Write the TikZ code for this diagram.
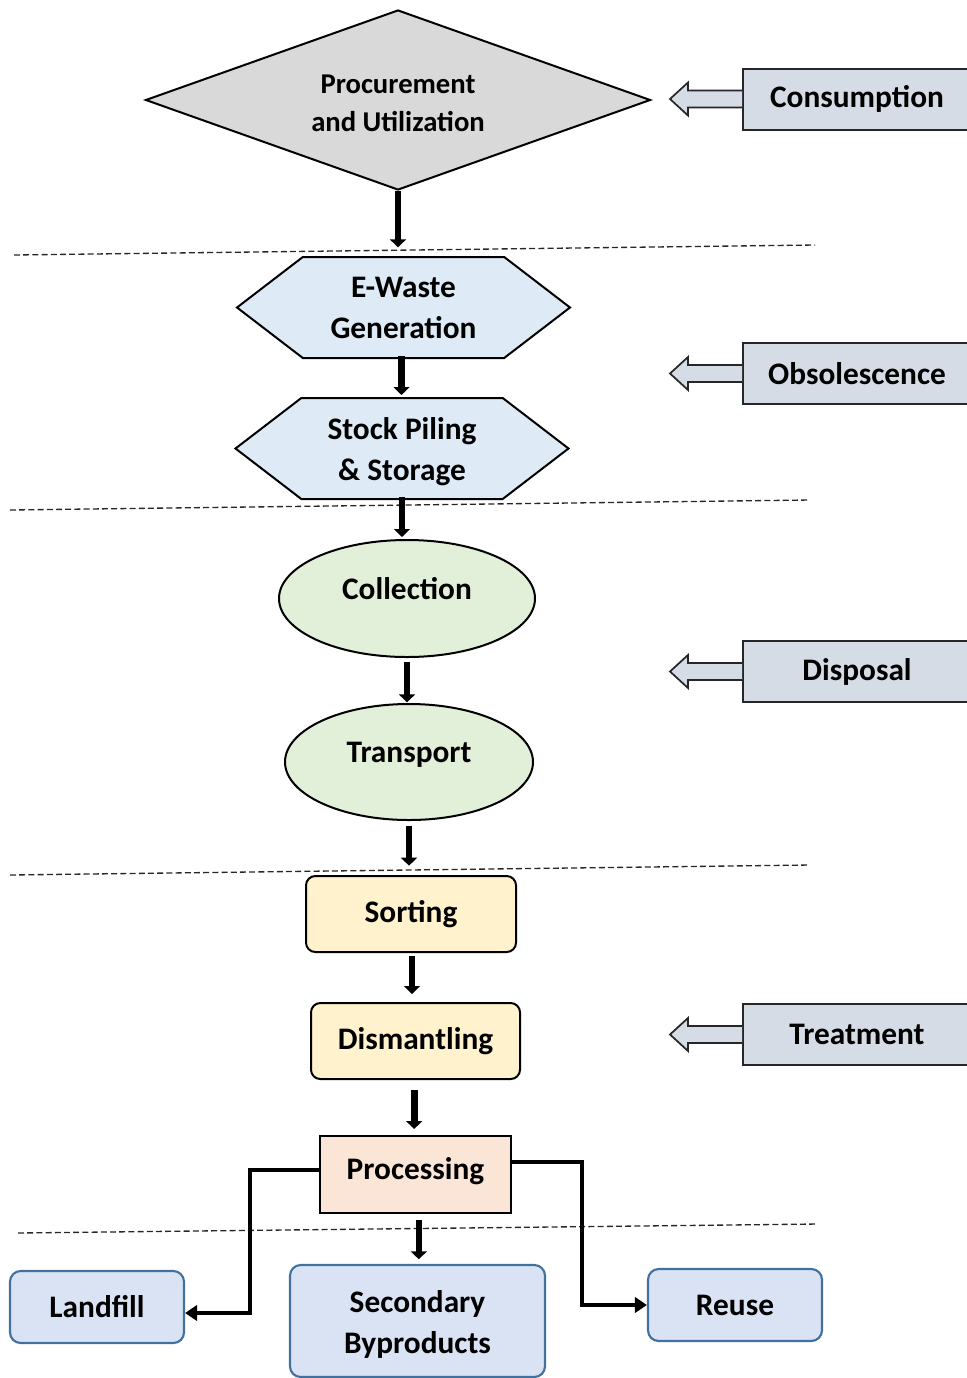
\documentclass[tikz,border=0pt]{standalone}
\usepackage{fontspec}
\setmainfont{Carlito}
\usetikzlibrary{shapes.geometric,shapes.symbols,arrows.meta,calc}
\definecolor{dgray}{HTML}{D9D9D9}
\definecolor{hexblue}{HTML}{DEEBF7}
\definecolor{ellgreen}{HTML}{E2F0D9}
\definecolor{boxyellow}{HTML}{FFF2CC}
\definecolor{procpink}{HTML}{FBE5D6}
\definecolor{endblue}{HTML}{DAE3F3}
\definecolor{endborder}{HTML}{41719C}
\definecolor{callfill}{HTML}{D6DCE5}
\definecolor{callline}{HTML}{262626}
\newcommand{\mlshift}[2]{\raisebox{#1}[\height][\depth]{\begin{tabular}{@{}c@{}}#2\end{tabular}}}
\begin{document}
\begin{tikzpicture}[x=0.75pt,y=-0.75pt,
  lbl/.style={font=\bfseries\fontsize{23.5}{30.75}\selectfont, align=center, text=black, inner sep=0pt},
  outl/.style={draw=black, line width=1.5pt},
  hexa/.style={lbl, outl, signal, signal to=west and east, signal pointer angle=75, fill=hexblue,
     minimum width=249.75pt, minimum height=75.75pt},
  ell/.style={lbl, outl, ellipse, fill=ellgreen, text height=16pt, text depth=15pt},
  ybox/.style={lbl, outl, rectangle, rounded corners=7pt, fill=boxyellow, minimum height=57pt},
  endbox/.style={lbl, draw=endborder, line width=1.6pt, rectangle, rounded corners=8pt, fill=endblue},
  callbox/.style={lbl, draw=callline, line width=1.5pt, rectangle, fill=callfill,
     minimum width=171pt, minimum height=45.75pt},
  callarrow/.style={draw=callline, line width=1.3pt, fill=callfill, line join=miter},
  flow/.style={line width=5pt, -{Triangle[length=6pt,width=12pt]}},
  elbow/.style={line width=3pt, -{Triangle[length=9pt,width=11.5pt]}},
  sep/.style={line width=1pt, dash pattern=on 4.5pt off 2.4pt, draw=black!85}
]
\useasboundingbox (0,0) rectangle (967,1378);

% separators
\draw[sep] (14,255) -- (815,245);
\draw[sep] (10,510) -- (810,500);
\draw[sep] (10,875) -- (810,865);
\draw[sep] (18,1233) -- (818,1224);

% main column
\node[lbl, outl, diamond, aspect=2.8, fill=dgray, minimum width=378.75pt, minimum height=135pt,
      font=\bfseries\fontsize{21.5}{28.5}\selectfont] (pu) at (398,100) {\mlshift{-3.75pt}{Procurement\\and Utilization}};
\node[hexa] (ew) at (403.5,307.5) {E-Waste\\Generation};
\node[hexa] (sp) at (402,448.5) {\mlshift{-2.5pt}{Stock Piling\\\& Storage}};
\node[ell, minimum width=192pt, minimum height=87.75pt] (col) at (407,598.5) {Collection};
\node[ell, minimum width=186pt, minimum height=87pt] (tra) at (409,762) {Transport};
\node[ybox, minimum width=157.5pt] (sor) at (411,914) {Sorting};
\node[ybox, minimum width=156.75pt] (dis) at (415.5,1041) {Dismantling};
\node[lbl, outl, rectangle, fill=procpink, minimum width=143.25pt, minimum height=57.75pt,
      text depth=8pt, text height=16pt] (pro) at (415.5,1174.5) {Processing};
\node[endbox, minimum width=130.5pt, minimum height=54pt] (lan) at (97,1307) {Landfill};
\node[endbox, minimum width=191.25pt, minimum height=84pt] (sec) at (417.5,1321) {\mlshift{-2.5pt}{Secondary\\Byproducts}};
\node[endbox, minimum width=130.5pt, minimum height=54pt] (reu) at (735,1305) {Reuse};

% flow arrows
\draw[flow, shorten >=6.5pt] (pu.south) -- (pu.south |- ew.north);
\draw[flow, shorten <=-2pt, shorten >=1.5pt] ([xshift=-1.5pt]ew.south) -- ([xshift=-1.5pt]ew.south |- sp.north);
\draw[flow, shorten <=-2pt, shorten >=1.5pt] (sp.south) -- (sp.south |- col.north);
\draw[flow, shorten <=3pt, shorten >=0.5pt] (col.south) -- (col.south |- tra.north);
\draw[flow, shorten <=3.5pt, shorten >=7pt] (tra.south) -- (tra.south |- sor.north);
\draw[flow, shorten <=2pt, shorten >=6pt] ([xshift=0.75pt]sor.south) -- ([xshift=0.75pt]sor.south |- dis.north);
\draw[flow, shorten <=7.5pt, shorten >=4.5pt] ([xshift=-1pt]dis.south) -- ([xshift=-1pt]dis.south |- pro.north);
\draw[flow, shorten <=4.5pt, shorten >=3.5pt] ([xshift=2.5pt]pro.south) -- ([xshift=2.5pt]pro.south |- sec.north);

% branches
\draw[elbow] ([yshift=3.4pt]pro.west) -- ++(-69,0) |- ([yshift=-4.5pt]lan.east);
\draw[elbow] ([yshift=9.4pt]pro.east) -- ++(70,0) |- (reu.west);

% callouts
\foreach \nm/\yy/\txt in {c1/99/Consumption, c2/373.5/Obsolescence, c3/671.5/Disposal, c4/1034.5/Treatment}{
  \node[callbox] (\nm) at (857,\yy) {\txt};
  \draw[callarrow] ($(\nm.west)+(0,-8.5)$) -- ++(-54,0) -- ++(0,-8) -- ++(-18,16.5) -- ++(18,16.5) -- ++(0,-8) -- ++(54,0);
}
\end{tikzpicture}
\end{document}
